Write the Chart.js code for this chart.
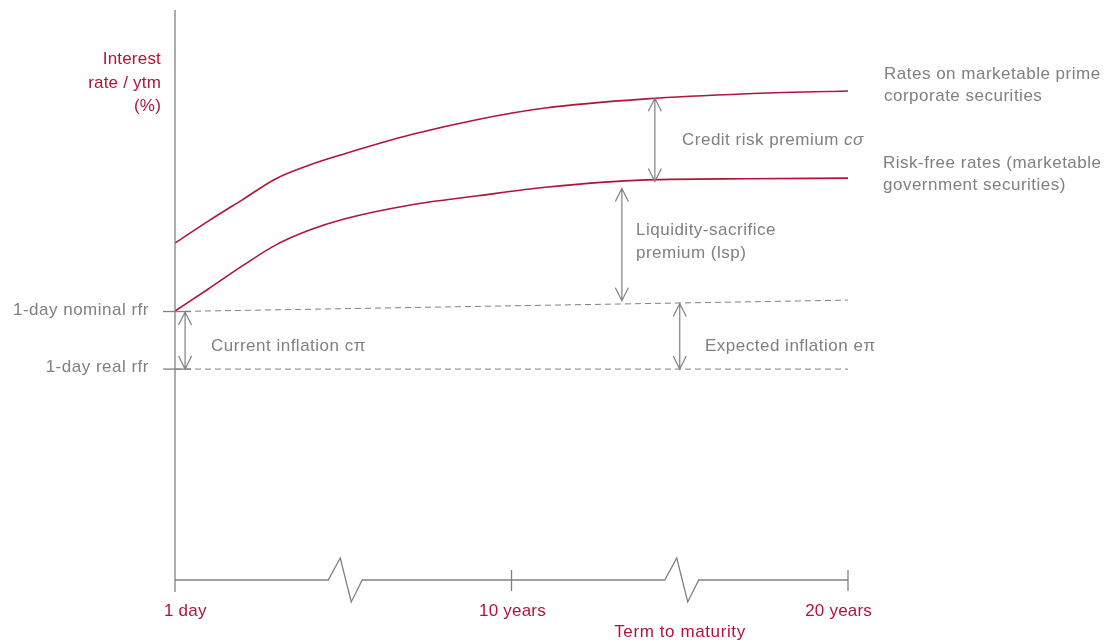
<!DOCTYPE html>
<html lang="en">
<head>
  <meta charset="UTF-8">
  <title>Term structure of interest rates</title>
  <script src="https://cdn.jsdelivr.net/npm/chart.js"></script>
  <style>
    body { margin: 0; background: #fff; }
    #wrap { width: 1107px; height: 642px; }
  </style>
</head>
<body>
  <div id="wrap">
    <canvas id="myChart" width="1107" height="642"></canvas>
  </div>

  <script>
    // term in years (0 = 1 day), values on an arbitrary rate scale 0..100
    const terms = [0, 1, 2, 3, 4, 5, 7, 9, 11, 14, 17, 20];
    const corporateRates = [59.1, 63.0, 66.7, 70.4, 72.8, 74.7, 78.1, 80.8, 82.8, 84.4, 85.3, 85.8];
    const riskFreeRates = [47.2, 51.1, 55.1, 58.8, 61.4, 63.3, 65.8, 67.4, 68.9, 70.2, 70.4, 70.5];
    const nominalTerms = [0, 20];
    const nominalRfr = [47.1, 49.1];
    const realRfr = [37.0, 37.0];

    const tickTerms = [0, 10, 20];
    const tickLabels = ['1 day', '10 years', '20 years'];
    const breakTerms = [5, 15];

    // double arrows: term, from value, to value
    const arrowTerms = [14.26, 13.28, 15.0, 0.3];
    const arrowFrom = [84.5, 68.7, 48.5, 47.0];
    const arrowTo = [69.9, 49.0, 37.0, 37.0];

    const RED = '#b0143a';
    const GREY = '#808080';
    const FAMILY = '"Liberation Sans", Arial, sans-serif';

    const toPts = (xs, ys) => xs.map((x, i) => ({ x: x, y: ys[i] }));

    const drawings = {
      id: 'drawings',
      afterDraw(chart) {
        const c = chart.ctx;
        const xs = chart.scales.x, ys = chart.scales.y;
        const x0 = xs.getPixelForValue(0);
        const yAxis = ys.getPixelForValue(0);
        c.save();

        // y axis line
        c.strokeStyle = GREY;
        c.lineWidth = 1.3;
        c.beginPath();
        c.moveTo(x0, chart.chartArea.top);
        c.lineTo(x0, yAxis + 12);
        c.stroke();

        // x axis with breaks
        c.beginPath();
        c.moveTo(x0, yAxis);
        breakTerms.forEach(t => {
          const bx = xs.getPixelForValue(t);
          c.lineTo(bx - 15, yAxis);
          c.lineTo(bx - 3, yAxis - 22);
          c.lineTo(bx + 8, yAxis + 22);
          c.lineTo(bx + 19, yAxis);
        });
        c.lineTo(xs.getPixelForValue(20), yAxis);
        c.stroke();
        tickTerms.slice(1).forEach(t => {
          const tx = xs.getPixelForValue(t);
          c.beginPath();
          c.moveTo(tx, yAxis - 10);
          c.lineTo(tx, yAxis + 11);
          c.stroke();
        });

        // small left ticks for rfr levels
        [nominalRfr[0], realRfr[0]].forEach(v => {
          const py = ys.getPixelForValue(v);
          c.beginPath();
          c.moveTo(x0 - 12, py);
          c.lineTo(x0 + 16, py);
          c.stroke();
        });

        // arrows
        c.lineWidth = 1.2;
        arrowTerms.forEach((t, i) => {
          const ax = xs.getPixelForValue(t);
          const a = ys.getPixelForValue(arrowFrom[i]);
          const b = ys.getPixelForValue(arrowTo[i]);
          c.beginPath();
          c.moveTo(ax, a);
          c.lineTo(ax, b);
          c.moveTo(ax - 6.5, a + 13);
          c.lineTo(ax, a);
          c.lineTo(ax + 6.5, a + 13);
          c.moveTo(ax - 6.5, b - 13);
          c.lineTo(ax, b);
          c.lineTo(ax + 6.5, b - 13);
          c.stroke();
        });

        // texts
        c.textBaseline = 'middle';
        c.font = '17px ' + FAMILY;
        c.letterSpacing = '0.2px';
        c.fillStyle = RED;
        c.textAlign = 'right';
        c.fillText('Interest', 161, 59);
        c.fillText('rate / ytm', 161, 83);
        c.fillText('(%)', 161, 106);

        c.textAlign = 'left';
        c.fillText(tickLabels[0], 164, 611);
        c.textAlign = 'center';
        c.fillText(tickLabels[1], xs.getPixelForValue(tickTerms[1]) + 1, 611);
        c.textAlign = 'right';
        c.fillText(tickLabels[2], 872, 611);
        c.textAlign = 'center';
        c.letterSpacing = '0.6px';
        c.fillText('Term to maturity', 680, 632);

        c.font = '17px ' + FAMILY;
        c.letterSpacing = '0.5px';
        c.fillStyle = GREY;
        c.textAlign = 'right';
        c.fillText('1-day nominal rfr', 149, 310);
        c.fillText('1-day real rfr', 149, 367);

        c.textAlign = 'left';
        c.fillText('Current inflation c\u03c0', 211, 346);
        c.fillText('Expected inflation e\u03c0', 705, 346);
        c.fillText('Liquidity-sacrifice', 636, 230);
        c.fillText('premium (lsp)', 636, 253);
        const crp = 'Credit risk premium ';
        c.fillText(crp, 682, 140);
        const w = c.measureText(crp).width;
        c.font = 'italic 17px ' + FAMILY;
        c.fillText('c\u03c3', 682 + w, 140);
        c.font = '17px ' + FAMILY;
        c.fillText('Rates on marketable prime', 884, 74);
        c.fillText('corporate securities', 884, 96);
        c.fillText('Risk-free rates (marketable', 883, 163);
        c.fillText('government securities)', 883, 185);

        c.restore();
      }
    };

    new Chart(document.getElementById('myChart'), {
      type: 'line',
      data: {
        datasets: [
          {
            data: toPts(terms, corporateRates),
            borderColor: RED, borderWidth: 1.6,
            pointRadius: 0, cubicInterpolationMode: 'monotone'
          },
          {
            data: toPts(terms, riskFreeRates),
            borderColor: RED, borderWidth: 1.6,
            pointRadius: 0, cubicInterpolationMode: 'monotone'
          },
          {
            data: toPts(nominalTerms, nominalRfr),
            borderColor: GREY, borderWidth: 1, borderDash: [6, 4],
            pointRadius: 0
          },
          {
            data: toPts(nominalTerms, realRfr),
            borderColor: GREY, borderWidth: 1, borderDash: [6, 4],
            pointRadius: 0
          }
        ]
      },
      options: {
        responsive: false,
        animation: false,
        layout: { padding: { left: 175, right: 259, top: 10, bottom: 62 } },
        plugins: { legend: { display: false }, tooltip: { enabled: false } },
        scales: {
          x: { type: 'linear', min: 0, max: 20, display: false },
          y: { type: 'linear', min: 0, max: 100, display: false }
        }
      },
      plugins: [drawings]
    });
  </script>
</body>
</html>
